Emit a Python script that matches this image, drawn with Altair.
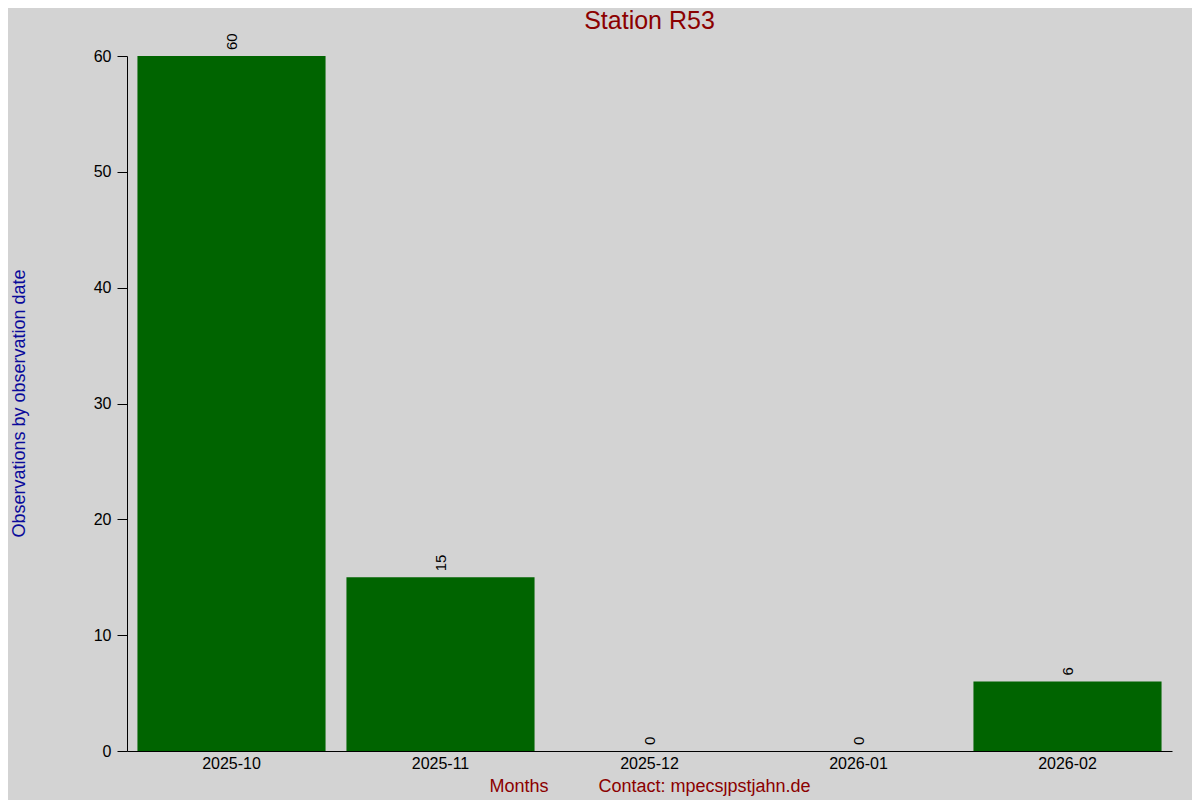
import altair as alt
import pandas as pd

months = ["2025-10", "2025-11", "2025-12", "2026-01", "2026-02"]
counts = [60, 15, 0, 0, 6]
y_ticks = [0, 10, 20, 30, 40, 50, 60]

df = pd.DataFrame({"month": months, "count": counts})

FONT = "Liberation Sans"
NB = "\u00a0"
x_title = "Months" + NB * 10 + "Contact: mpecs\u0237pstjahn.de"

base = alt.Chart(df)

bars = base.mark_bar(color="#006400").encode(
    x=alt.X(
        "month:N",
        sort=months,
        scale=alt.Scale(paddingInner=0.1, paddingOuter=0.05),
        axis=alt.Axis(
            title=x_title,
            titleColor="#8b0000",
            titleFont=FONT,
            titleFontSize=18,
            titleFontWeight="normal",
            titlePadding=6,
            labelAngle=0,
            labelFont=FONT,
            labelFontSize=16,
            labelColor="black",
            labelPadding=4,
            ticks=False,
            domainColor="black",
            grid=False,
        ),
    ),
    y=alt.Y(
        "count:Q",
        scale=alt.Scale(domain=[0, 60], nice=False),
        axis=alt.Axis(
            values=y_ticks,
            title="Observations by observation date",
            titleColor="#0a0a9a",
            titleFont=FONT,
            titleFontSize=18,
            titleFontWeight="normal",
            titleAngle=-90,
            titleX=-108,
            titleY=347,
            titleAlign="center",
            titleBaseline="middle",
            labelFont=FONT,
            labelFontSize=16,
            labelColor="black",
            labelPadding=6,
            tickSize=10,
            tickColor="black",
            domainColor="black",
            grid=False,
        ),
    ),
)

labels = base.mark_text(
    angle=270,
    align="left",
    baseline="middle",
    dx=6,
    font=FONT,
    fontSize=15,
    color="black",
).encode(
    x=alt.X("month:N", sort=months),
    y=alt.Y("count:Q"),
    text=alt.Text("count:Q"),
)

chart = (
    alt.layer(bars, labels)
    .properties(
        width=1045,
        height=695,
        background="#d3d3d3",
        padding={"left": 119, "top": 48, "right": 20, "bottom": 70},
        autosize=alt.AutoSizeParams(type="none"),
        title=alt.TitleParams(
            "Station R53",
            font=FONT,
            fontSize=25,
            fontWeight="normal",
            color="#8b0000",
            anchor="middle",
            offset=-1,
        ),
    )
    .configure_view(stroke=None)
)

chart.save("out.html", embed_options={"renderer": "svg", "actions": False})
